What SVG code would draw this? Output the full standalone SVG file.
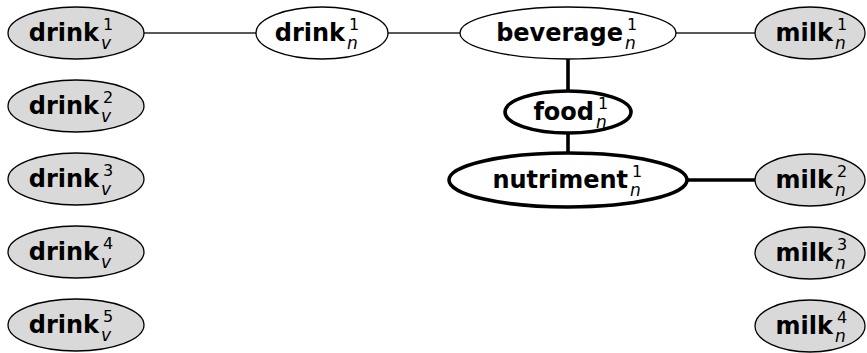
<svg xmlns="http://www.w3.org/2000/svg" width="867" height="353" viewBox="0 0 867 353">
<style>
.bg{fill:#ffffff}
.g{fill:#d9d9d9;stroke:#000;stroke-width:1.3}
.w{fill:#ffffff;stroke:#000;stroke-width:1.3}
.b{fill:#ffffff;stroke:#000;stroke-width:3.6}
.thin{stroke:#222;stroke-width:1.4;fill:none}
.thick{stroke:#000;stroke-width:3.6;fill:none}
.m{font-family:"DejaVu Sans",sans-serif;font-weight:bold;font-size:24px;fill:#000;text-anchor:end}
.s{font-family:"DejaVu Sans",sans-serif;font-size:16px;fill:#000}
.i{font-family:"DejaVu Sans",sans-serif;font-style:italic;font-size:17px;fill:#000}
</style>
<rect class="bg" x="0" y="0" width="867" height="353"/>
<g id="connectors">
<line class="thin" x1="144" y1="33" x2="256" y2="33"/>
<line class="thin" x1="388" y1="33" x2="460" y2="33"/>
<line class="thin" x1="676" y1="33" x2="755" y2="33"/>
<line class="thick" x1="568" y1="59" x2="568" y2="91"/>
<line class="thick" x1="568" y1="133" x2="568" y2="153"/>
<line class="thick" x1="687" y1="180" x2="755" y2="180"/>
</g>
<g id="drink_v1"><ellipse class="g" cx="76" cy="33" rx="68" ry="26"/><text class="m" x="99" y="41">drink</text><text class="s" x="103" y="30">1</text><text class="i" x="101" y="49">v</text></g>
<g id="drink_v2"><ellipse class="g" cx="76" cy="106" rx="68" ry="26"/><text class="m" x="99" y="114">drink</text><text class="s" x="103" y="103">2</text><text class="i" x="101" y="122">v</text></g>
<g id="drink_v3"><ellipse class="g" cx="76" cy="179" rx="68" ry="26"/><text class="m" x="99" y="187">drink</text><text class="s" x="103" y="176">3</text><text class="i" x="101" y="195">v</text></g>
<g id="drink_v4"><ellipse class="g" cx="76" cy="252" rx="68" ry="26"/><text class="m" x="99" y="260">drink</text><text class="s" x="103" y="249">4</text><text class="i" x="101" y="268">v</text></g>
<g id="drink_v5"><ellipse class="g" cx="76" cy="325" rx="68" ry="26"/><text class="m" x="99" y="333">drink</text><text class="s" x="103" y="322">5</text><text class="i" x="101" y="341">v</text></g>
<g id="drink_n1"><ellipse class="w" cx="322" cy="33" rx="66" ry="26"/><text class="m" x="345" y="41">drink</text><text class="s" x="349" y="30">1</text><text class="i" x="347" y="49">n</text></g>
<g id="beverage_n1"><ellipse class="w" cx="568" cy="33" rx="108" ry="26"/><text class="m" x="623" y="41">beverage</text><text class="s" x="627" y="30">1</text><text class="i" x="625" y="49">n</text></g>
<g id="food_n1"><ellipse class="b" cx="568" cy="112" rx="63" ry="21"/><text class="m" x="594" y="120">food</text><text class="s" x="598" y="109">1</text><text class="i" x="596" y="128">n</text></g>
<g id="nutriment_n1"><ellipse class="b" cx="568" cy="180" rx="119" ry="27"/><text class="m" x="628" y="188">nutriment</text><text class="s" x="632" y="177">1</text><text class="i" x="630" y="196">n</text></g>
<g id="milk_n1"><ellipse class="g" cx="810" cy="33" rx="55" ry="26"/><text class="m" x="833" y="41">milk</text><text class="s" x="837" y="30">1</text><text class="i" x="835" y="49">n</text></g>
<g id="milk_n2"><ellipse class="g" cx="810" cy="180" rx="55" ry="26"/><text class="m" x="833" y="188">milk</text><text class="s" x="837" y="177">2</text><text class="i" x="835" y="196">n</text></g>
<g id="milk_n3"><ellipse class="g" cx="810" cy="253" rx="55" ry="26"/><text class="m" x="833" y="261">milk</text><text class="s" x="837" y="250">3</text><text class="i" x="835" y="269">n</text></g>
<g id="milk_n4"><ellipse class="g" cx="810" cy="326" rx="55" ry="26"/><text class="m" x="833" y="334">milk</text><text class="s" x="837" y="323">4</text><text class="i" x="835" y="342">n</text></g>
</svg>
